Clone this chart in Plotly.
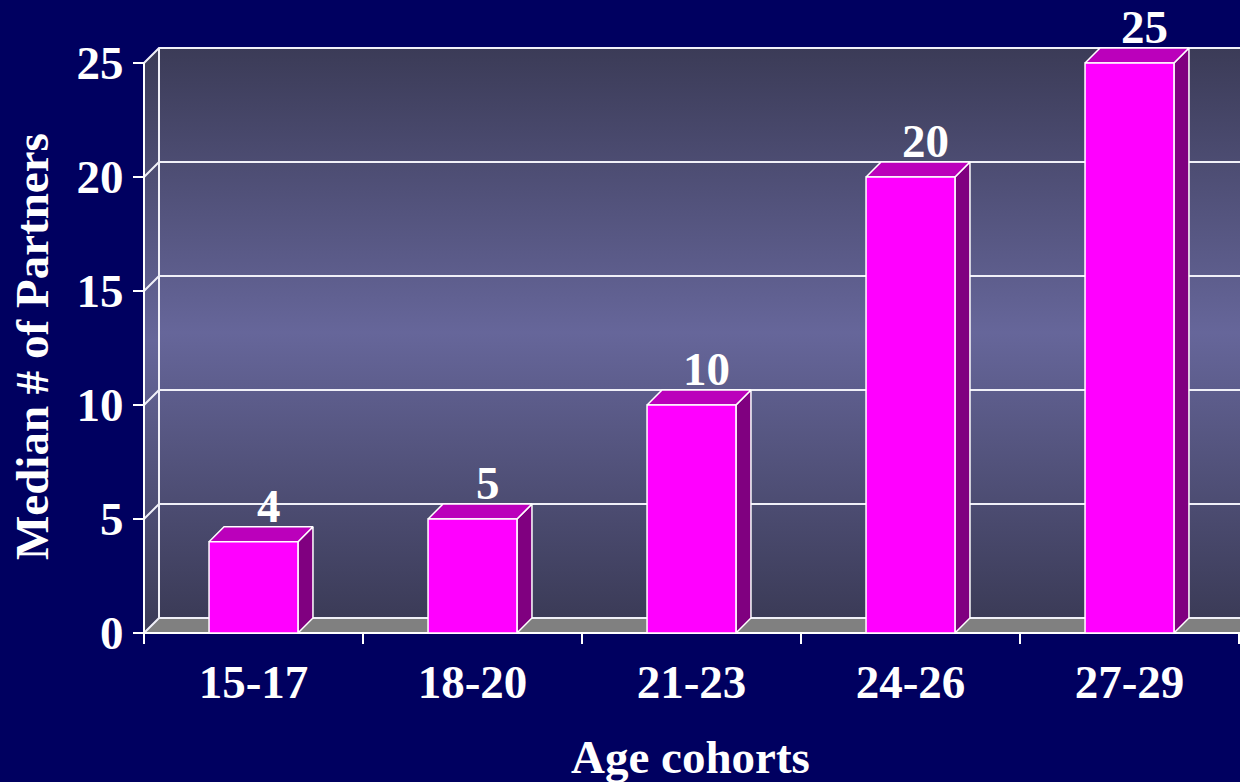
import plotly.graph_objects as go

# ---------------- data ----------------
categories = ["15-17", "18-20", "21-23", "24-26", "27-29"]
median_partners = [4, 5, 10, 20, 25]
y_ticks = [0, 5, 10, 15, 20, 25]
x_title = "Age cohorts"
y_title = "Median # of Partners"

# ---------------- geometry (pixels) ----------------
W, H = 1240, 782
ML, MR, MT, MB = 130, 0, 20, 137
ORIGIN_X, ORIGIN_Y = 144, 633      # pixel position of (first boundary, 0)
PX_CAT = 219.0                     # pixels per category
PX_UNIT = 22.8                     # pixels per value unit
DEPTH_PX = 15                      # 3D depth offset
plot_w = W - ML - MR
plot_h = H - MT - MB

x_min = -0.5 - (ORIGIN_X - ML) / PX_CAT
x_max = -0.5 + (W - MR - ORIGIN_X) / PX_CAT
y_min = -((H - MB) - ORIGIN_Y) / PX_UNIT
y_max = (ORIGIN_Y - MT) / PX_UNIT

dx = DEPTH_PX / PX_CAT
dy = DEPTH_PX / PX_UNIT
x0 = -0.5
x_far = x_max + 0.2
top = max(y_ticks)
bar_half = 0.203

FONT = "Liberation Serif"
FS = 47
WALL_SCALE = [[0, "#3b3b57"], [0.5, "#66669a"], [1, "#3b3b57"]]
GRID = "#f0f0f8"

idx = list(range(len(categories)))
bounds = [i - 0.5 for i in range(len(categories) + 1)]

fig = go.Figure()

def poly(xs, ys, fill=None, grad=None, line_color=None, line_width=0):
    kw = dict(x=xs + [xs[0]], y=ys + [ys[0]], mode="lines", fill="toself",
              hoverinfo="skip", showlegend=False,
              line=dict(width=line_width, color=line_color or "rgba(0,0,0,0)"))
    if grad is not None:
        kw["fillgradient"] = dict(type="vertical", colorscale=grad)
    else:
        kw["fillcolor"] = fill
    fig.add_trace(go.Scatter(**kw))

# back wall
poly([x0 + dx, x_far, x_far, x0 + dx], [dy, dy, top + dy, top + dy], grad=WALL_SCALE)
# left wall
poly([x0, x0 + dx, x0 + dx, x0], [0, dy, top + dy, top], grad=WALL_SCALE)
# floor
poly([x0, x0 + dx, x_far, x_far], [0, dy, dy, 0], fill="#808080")

# gridlines on walls
gx, gy = [], []
for v in y_ticks:
    gx += [x0, x0 + dx, x_far, None]
    gy += [v, v + dy, v + dy, None]
gx += [x0 + dx, x0 + dx, None]
gy += [dy, top + dy, None]
fig.add_trace(go.Scatter(x=gx, y=gy, mode="lines", line=dict(color=GRID, width=2),
                         hoverinfo="skip", showlegend=False))

# axis lines
fig.add_trace(go.Scatter(x=[x0, x0, None, x0, x_far], y=[0, top, None, 0, 0], mode="lines",
                         line=dict(color="white", width=2), hoverinfo="skip", showlegend=False))

# bars
for i, v in zip(idx, median_partners):
    l, r = i - bar_half, i + bar_half
    poly([r, r + dx, r + dx, r], [0, dy, v + dy, v], fill="#800080", line_color="white", line_width=1.5)
    poly([l, r, r + dx, l + dx], [v, v, v + dy, v + dy], fill="#bb00bb", line_color="white", line_width=1.5)
    poly([l, r, r, l], [0, 0, v, v], fill="#ff00ff", line_color="white", line_width=1.5)

def px_x(p):
    return (p - ML) / plot_w

def px_y(p):
    return ((H - MB) - p) / plot_h

annotations = []
for i, v in zip(idx, median_partners):
    annotations.append(dict(x=i + dx, y=v, xref="x", yref="y", text=str(v), showarrow=False,
                            yanchor="middle", yshift=36,
                            font=dict(family=FONT, size=FS, color="white", weight="bold")))
annotations.append(dict(x=px_x(691), y=px_y(757), xref="paper", yref="paper", text=x_title,
                        showarrow=False, xanchor="center", yanchor="middle",
                        font=dict(family=FONT, size=FS, color="white", weight="bold")))
annotations.append(dict(x=px_x(32), y=px_y(347), xref="paper", yref="paper", text=y_title,
                        showarrow=False, textangle=-90, xanchor="center", yanchor="middle",
                        font=dict(family=FONT, size=FS, color="white", weight="bold")))

fig.update_layout(
    width=W, height=H,
    margin=dict(l=ML, r=MR, t=MT, b=MB, pad=0),
    paper_bgcolor="#000060",
    plot_bgcolor="rgba(0,0,0,0)",
    showlegend=False,
    hovermode=False,
    annotations=annotations,
    xaxis=dict(range=[x_min, x_max], anchor="free", position=px_y(ORIGIN_Y),
               tickmode="array", tickvals=idx, ticktext=categories, ticks="",
               ticklabelstandoff=17,
               showgrid=False, zeroline=False, showline=False,
               tickfont=dict(family=FONT, size=FS, color="white", weight="bold"),
               minor=dict(tickmode="array", tickvals=bounds, ticks="outside", ticklen=10,
                          tickwidth=1.5, tickcolor="white", showgrid=False)),
    yaxis=dict(range=[y_min, y_max], anchor="free", position=px_x(ORIGIN_X),
               tickmode="array", tickvals=y_ticks, ticks="outside", ticklen=11,
               tickwidth=2, tickcolor="white",
               showgrid=False, zeroline=False, showline=False,
               tickfont=dict(family=FONT, size=FS, color="white", weight="bold")),
)

fig.write_html("out.html", config={"displayModeBar": False, "staticPlot": True},
               post_script="document.body.style.margin='0';document.body.style.overflow='hidden';")
